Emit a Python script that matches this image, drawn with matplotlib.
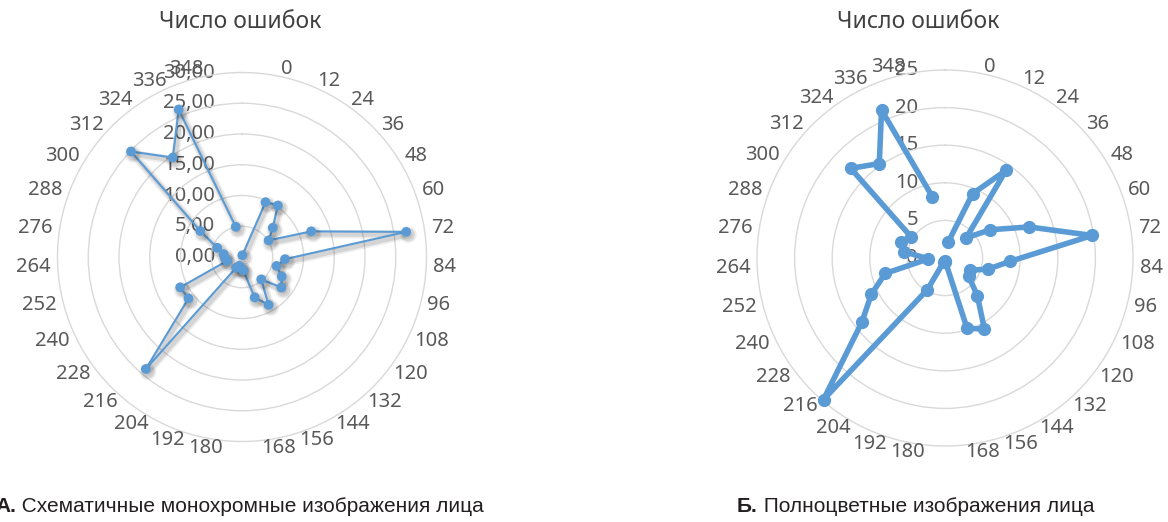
import matplotlib
matplotlib.use("Agg")
import matplotlib.pyplot as plt
import matplotlib.patheffects as pe
import numpy as np

# the first category is empty in the source sheet: no label, no value
categories = ["", "0", "12", "24", "36", "48", "60", "72", "84", "96", "108",
              "120", "132", "144", "156", "168", "180", "192", "204", "216",
              "228", "240", "252", "264", "276", "288", "300", "312", "324",
              "336", "348"]

errors_mono = [np.nan, 0.3, 9.7, 10.2, 6.9, 5.1, 12.0, 27.0, 7.0, 5.8, 7.2,
               8.1, 4.8, 8.9, 6.9, 2.2, 1.8, 1.5, 2.0, 24.0, 11.0,
               11.2, 2.5, 2.8, 3.0, 4.3, 8.0, 24.9, 19.7, 26.1, 5.0]
errors_color = [np.nan, 2.2, 9.3, 14.2, 3.9, 7.1, 11.9, 19.8, 8.7, 5.9, 3.7,
                4.0, 6.6, 10.8, 9.8, 0.5, 0.4, 0.5, 4.8, 24.8, 14.0,
                10.9, 8.2, 2.2, 5.5, 6.3, 5.3, 17.3, 15.3, 21.4, 8.3]

ticks_mono = [0, 5, 10, 15, 20, 25, 30]
tick_labels_mono = ["0,00", "5,00", "10,00", "15,00", "20,00", "25,00", "30,00"]
ticks_color = [0, 5, 10, 15, 20, 25]
tick_labels_color = ["0", "5", "10", "15", "20", "25"]

title = "Число ошибок"
caption_mono = ("А.", " Схематичные монохромные изображения лица")
caption_color = ("Б.", " Полноцветные изображения лица")

BLUE = "#5B9BD5"
GRID = "#D9D9D9"
LABEL = "#595959"

W, H = 1168, 522
plt.rcParams["font.family"] = ["Noto Sans", "DejaVu Sans"]

fig = plt.figure(figsize=(W / 100, H / 100), dpi=100)


def radar(cx, cy, R, values, ticks, tick_labels, lw, ms, shadow=False):
    ax = fig.add_axes([(cx - R) / W, 1 - (cy + R) / H, 2 * R / W, 2 * R / H],
                      projection="polar")
    ax.set_theta_zero_location("N")
    ax.set_theta_direction(-1)
    ax.set_ylim(0, ticks[-1])
    ax.set_yticks(ticks[1:-1])
    ax.set_yticklabels([])
    ax.set_xticks([])
    ax.yaxis.grid(True, color=GRID, lw=1.0)
    ax.spines["polar"].set_color(GRID)
    ax.spines["polar"].set_linewidth(1.0)

    n = len(categories)
    theta = 2 * np.pi * np.arange(n) / n

    for v, lab in zip(ticks, tick_labels):
        ax.annotate(lab, xy=(0, v), xytext=(-27, 0), textcoords="offset pixels",
                    ha="right", va="center", fontsize=14.5, color=LABEL,
                    annotation_clip=False, zorder=1)

    for th, lab in zip(theta, categories):
        if not lab:
            continue
        s, c = np.sin(th), np.cos(th)
        ax.annotate(lab, xy=(th, ticks[-1]), xytext=(7 * s, 7 * c),
                    textcoords="offset pixels", ha="left" if s > 0 else "right",
                    va="center", fontsize=14.5, color=LABEL,
                    annotation_clip=False)

    effects = None
    if shadow:
        # soft grey shadow under the thin series, like the spreadsheet effect
        effects = [pe.SimpleLineShadow(offset=(1.5, -2), shadow_color="k",
                                       alpha=0.07, linewidth=6),
                   pe.SimpleLineShadow(offset=(1.5, -2), shadow_color="k",
                                       alpha=0.1, linewidth=3.5),
                   pe.Normal()]
    ax.plot(theta, values, color=BLUE, lw=lw, marker="o", ms=ms,
            solid_joinstyle="round", solid_capstyle="round",
            path_effects=effects, zorder=3, clip_on=False)
    return ax


radar(242, 257, 184.5, errors_mono, ticks_mono, tick_labels_mono,
      lw=1.5, ms=6, shadow=True)
radar(945, 258, 188, errors_color, ticks_color, tick_labels_color,
      lw=4, ms=8.5)

fig.text(240 / W, 1 - 22 / H, title, ha="center", va="center",
         fontsize=16.5, color="#404040")
fig.text(918 / W, 1 - 22 / H, title, ha="center", va="center",
         fontsize=16.5, color="#404040")

renderer = fig.canvas.get_renderer()
for x0, (bold, rest) in [(-5, caption_mono), (737, caption_color)]:
    t = fig.text(x0 / W, 1 - 507 / H, bold, ha="left", va="center",
                 fontsize=15, fontweight="bold", color="#231F20",
                 family=["Liberation Sans", "DejaVu Sans"])
    bb = t.get_window_extent(renderer)
    fig.text(bb.x1 / W, 1 - 507 / H, rest, ha="left", va="center",
             fontsize=15, color="#231F20",
             family=["Liberation Sans", "DejaVu Sans"])

fig.savefig("out.png", dpi=100, facecolor="white")
